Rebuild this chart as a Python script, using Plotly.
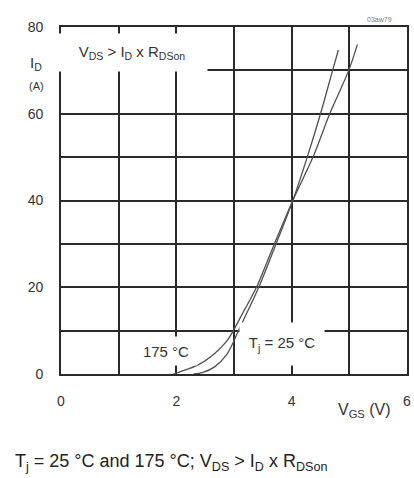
import plotly.graph_objects as go

# Data (V_GS in V, I_D in A)
vgs_25 = [2.30, 2.45, 2.67, 2.87, 2.98, 3.07, 3.22, 3.43, 3.73, 4.02, 4.27, 4.50, 4.71, 4.81]
id_25 = [0.0, 0.3, 1.7, 4.4, 7.1, 9.8, 14.0, 20.0, 30.0, 40.0, 50.0, 60.0, 70.0, 74.7]

vgs_175 = [1.95, 2.06, 2.38, 2.67, 2.87, 2.98, 3.15, 3.39, 3.70, 4.02, 4.37, 4.66, 4.99, 5.14]
id_175 = [0.0, 0.5, 2.1, 4.8, 7.5, 9.8, 14.0, 20.0, 30.0, 40.0, 50.0, 60.0, 70.0, 76.0]

x_ticks = [0, 1, 2, 3, 4, 5, 6]
x_tick_text = ["0", "", "2", "", "4", "", "6"]
y_ticks = [0, 10, 20, 30, 40, 50, 60, 70, 80]
y_tick_text = ["0", "", "20", "", "40", "", "60", "", "80"]

FONT = "Liberation Sans, Arial, sans-serif"
GRID = "#2a2a2a"
CURVE = "#505050"
TXT = "#333"

fig = go.Figure()
fig.add_trace(go.Scatter(x=vgs_25, y=id_25, mode="lines",
                         line=dict(color=CURVE, width=1.3, shape="spline", smoothing=0.8),
                         name="25 °C", showlegend=False))
fig.add_trace(go.Scatter(x=vgs_175, y=id_175, mode="lines",
                         line=dict(color=CURVE, width=1.3, shape="spline", smoothing=0.8),
                         name="175 °C", showlegend=False))

fig.update_layout(
    width=414, height=478,
    margin=dict(l=61, r=3, t=27, b=104),
    paper_bgcolor="white", plot_bgcolor="white",
    font=dict(family=FONT, size=14, color=TXT),
    xaxis=dict(range=[0, 6], tickvals=x_ticks, ticktext=x_tick_text, showgrid=True,
               gridcolor=GRID, gridwidth=1.6, showline=True, linecolor=GRID, linewidth=1.6,
               mirror=True, zeroline=False, ticks="", ticklabelstandoff=13,
               tickfont=dict(size=14, color=TXT)),
    yaxis=dict(range=[0, 80], tickvals=y_ticks, ticktext=y_tick_text, showgrid=True,
               gridcolor=GRID, gridwidth=1.6, showline=True, linecolor=GRID, linewidth=1.6,
               mirror=True, zeroline=False, ticks="", ticklabelstandoff=13,
               tickfont=dict(size=14, color=TXT)),
)

anns = [
    # label boxes inside the plot (white background hides gridlines)
    dict(x=1.234, y=74.1, xref="x", yref="y", text="V<sub>DS</sub> > I<sub>D</sub> x R<sub>DSon</sub>",
         showarrow=False, bgcolor="white", width=150, height=37, align="center",
         font=dict(size=15, color=TXT), borderpad=0),
    dict(x=1.82, y=5.3, xref="x", yref="y", text="175 °C", showarrow=False, bgcolor="white",
         width=62, height=28, font=dict(size=15, color=TXT), borderpad=0),
    dict(x=3.84, y=6.9, xref="x", yref="y", text="T<sub>j</sub> = 25 °C", showarrow=False, bgcolor="white",
         width=84, height=42, font=dict(size=15, color=TXT), borderpad=0),
    # axis titles and texts outside the plot (pixel positions, converted below)
    dict(x=36, y=64, text="I<sub>D</sub>", showarrow=False, font=dict(size=15, color=TXT)),
    dict(x=36, y=86, text="(A)", showarrow=False, font=dict(size=11, color=TXT)),
    dict(x=368, y=410, text="V<sub>GS</sub> (V)", showarrow=False, font=dict(size=16, color=TXT)),
    dict(x=383, y=19, text="03aw79", showarrow=False, font=dict(size=7, color="#777")),
    dict(x=12, y=462, text="T<sub>j</sub> = 25 °C and 175 °C; V<sub>DS</sub> > I<sub>D</sub> x R<sub>DSon</sub>",
         showarrow=False, xanchor="left", font=dict(size=18, color="#222")),
]

# convert pixel-positioned annotations to paper coords
W, H = 414, 478
L, R, T, B = 61, 3, 27, 104
pw, ph = W - L - R, H - T - B
out = []
for a in anns:
    if a.get("xref") == "x":
        out.append(a)
        continue
    px, py = a["x"], a["y"]
    a = dict(a)
    a["xref"] = "paper"
    a["yref"] = "paper"
    a["x"] = (px - L) / pw
    a["y"] = 1 - (py - T) / ph
    a.setdefault("xanchor", "center")
    a["yanchor"] = "middle"
    out.append(a)
fig.update_layout(annotations=out)

fig.write_html("out.html", config={"displayModeBar": False},
               post_script="document.body.style.margin='0';document.body.style.overflow='hidden';")
